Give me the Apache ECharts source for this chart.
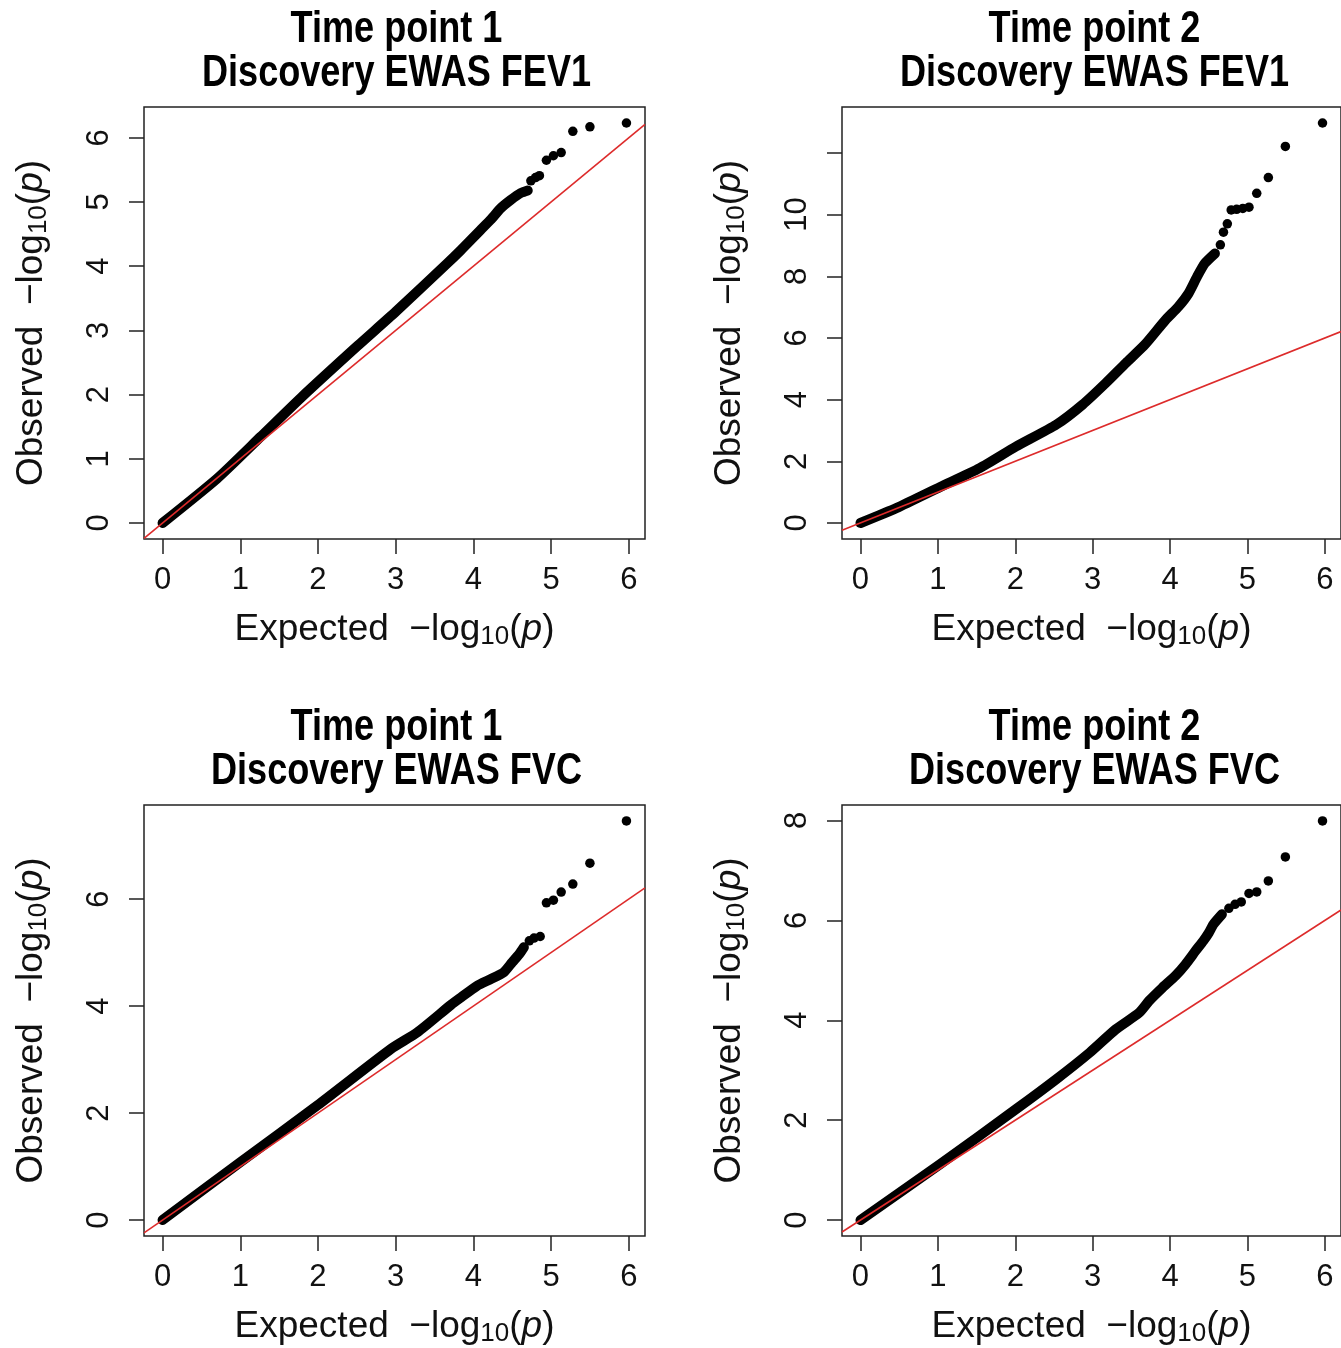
<!DOCTYPE html>
<html>
<head>
<meta charset="utf-8">
<script src="https://cdn.jsdelivr.net/npm/echarts@6/dist/echarts.min.js"></script>
<style>
  html, body { margin: 0; padding: 0; background: #ffffff; }
  #chart { width: 1341px; height: 1348px; }
</style>
</head>
<body>
<div id="chart"></div>
<script>
// Q-Q plots of EWAS p-values: expected vs observed -log10(p)

// Tick values
const xTicks = [0, 1, 2, 3, 4, 5, 6];
const yTicksFev1T1 = [0, 1, 2, 3, 4, 5, 6];
const yTicksFev1T2 = [0, 2, 4, 6, 8, 10, 12];
const yLabelsFev1T2 = [0, 2, 4, 6, 8, 10];
const yTicksFvcT1 = [0, 2, 4, 6];
const yTicksFvcT2 = [0, 2, 4, 6, 8];

// Panel titles
const panelTitles = [
  'Time point 1\nDiscovery EWAS FEV1',
  'Time point 2\nDiscovery EWAS FEV1',
  'Time point 1\nDiscovery EWAS FVC',
  'Time point 2\nDiscovery EWAS FVC'
];

// [expected, observed] -log10(p): dense bulk of the distribution
const fev1T1Body = [
  [0.00, 0.00], [0.70, 0.69], [1.26, 1.34], [1.78, 1.95], [2.51, 2.76],
  [3.00, 3.29], [3.67, 4.05], [3.84, 4.25], [3.97, 4.41], [4.09, 4.56],
  [4.22, 4.72], [4.35, 4.90], [4.48, 5.03], [4.61, 5.14], [4.70, 5.18]
];
// [expected, observed]: sparse upper tail
const fev1T1Tail = [
  [4.74, 5.33], [4.80, 5.38], [4.85, 5.41], [4.94, 5.65], [5.03, 5.72],
  [5.13, 5.77], [5.28, 6.10], [5.50, 6.17], [5.97, 6.23]
];

const fev1T2Body = [
  [0.00, 0.00], [0.47, 0.49], [1.03, 1.17], [1.54, 1.78], [2.01, 2.48],
  [2.53, 3.19], [2.87, 3.84], [3.17, 4.54], [3.43, 5.19], [3.68, 5.80],
  [3.94, 6.58], [4.11, 7.02], [4.24, 7.45], [4.35, 7.99], [4.45, 8.42],
  [4.58, 8.74]
];
const fev1T2Tail = [
  [4.65, 9.02], [4.69, 9.43], [4.74, 9.70], [4.79, 10.15], [4.86, 10.17],
  [4.94, 10.20], [5.02, 10.24], [5.12, 10.69], [5.27, 11.20], [5.49, 12.21],
  [5.97, 12.97]
];

const fvcT1Body = [
  [0.00, 0.00], [1.00, 1.08], [1.99, 2.14], [2.94, 3.20], [3.28, 3.51],
  [3.71, 4.02], [3.84, 4.16], [4.05, 4.38], [4.22, 4.50], [4.39, 4.63],
  [4.50, 4.82], [4.59, 4.97], [4.65, 5.10]
];
const fvcT1Tail = [
  [4.72, 5.22], [4.78, 5.27], [4.86, 5.30], [4.94, 5.93], [5.03, 5.98],
  [5.13, 6.13], [5.28, 6.28], [5.50, 6.67], [5.97, 7.46]
];

const fvcT2Body = [
  [0.00, 0.00], [1.03, 1.12], [2.01, 2.22], [2.53, 2.82], [2.96, 3.35],
  [3.30, 3.82], [3.60, 4.15], [3.73, 4.39], [3.90, 4.65], [4.07, 4.89],
  [4.20, 5.12], [4.33, 5.39], [4.43, 5.59], [4.50, 5.75], [4.56, 5.92],
  [4.67, 6.12]
];
const fvcT2Tail = [
  [4.76, 6.24], [4.84, 6.32], [4.92, 6.37], [5.02, 6.54], [5.12, 6.57],
  [5.27, 6.79], [5.49, 7.27], [5.97, 7.99]
];

const FONT = '"Liberation Sans", Arial, Helvetica, sans-serif';
const INK = '#111111';
const FRAME = '#222222';
const PLOT_W = 501;
const PLOT_H = 432;

const panels = [
  { title: panelTitles[0], body: fev1T1Body, tail: fev1T1Tail, yTicks: yTicksFev1T1, yLabels: yTicksFev1T1, left: 144, top: 107 },
  { title: panelTitles[1], body: fev1T2Body, tail: fev1T2Tail, yTicks: yTicksFev1T2, yLabels: yLabelsFev1T2, left: 842, top: 107 },
  { title: panelTitles[2], body: fvcT1Body, tail: fvcT1Tail, yTicks: yTicksFvcT1, yLabels: yTicksFvcT1, left: 144, top: 805 },
  { title: panelTitles[3], body: fvcT2Body, tail: fvcT2Tail, yTicks: yTicksFvcT2, yLabels: yTicksFvcT2, left: 842, top: 805 }
];

// Data range padded by 4% on each side
function paddedRange(values) {
  const lo = Math.min(...values);
  const hi = Math.max(...values);
  const pad = (hi - lo) * 0.04;
  return [lo - pad, hi + pad];
}

const nameRich = {
  s: { fontSize: 26, fontFamily: FONT, color: INK, verticalAlign: 'bottom', lineHeight: 18 },
  i: { fontSize: 37, fontFamily: FONT, color: INK, fontStyle: 'italic' }
};
const nameStyle = { fontSize: 37, lineHeight: 40, fontFamily: FONT, color: INK, rich: nameRich };

const option = {
  animation: false,
  backgroundColor: '#ffffff',
  graphic: [],
  grid: [],
  xAxis: [],
  yAxis: [],
  series: []
};

panels.forEach((p, i) => {
  const pts = p.body.concat(p.tail);
  const xr = paddedRange(pts.map(d => d[0]));
  const yr = paddedRange(pts.map(d => d[1]));

  // two-line bold title, horizontally condensed
  option.graphic.push({
    type: 'text',
    x: p.left + PLOT_W / 2 + 2,
    y: p.top - 99,
    scaleX: 0.82,
    silent: true,
    style: {
      text: p.title,
      fill: '#000',
      fontFamily: FONT,
      fontWeight: 'bold',
      fontSize: 44,
      lineHeight: 44,
      align: 'center',
      verticalAlign: 'top'
    }
  });

  option.grid.push({
    left: p.left, top: p.top, width: PLOT_W, height: PLOT_H,
    show: true, borderColor: FRAME, borderWidth: 1.5, backgroundColor: 'transparent'
  });

  option.xAxis.push({
    gridIndex: i, type: 'value', min: xr[0], max: xr[1],
    axisLine: { show: false, onZero: false },
    splitLine: { show: false },
    axisTick: { show: true, length: 15, customValues: xTicks, lineStyle: { color: FRAME, width: 1.5 } },
    axisLabel: { customValues: xTicks, fontSize: 31, fontFamily: FONT, color: INK, margin: 26 },
    name: 'Expected  \u2212log{s|10}({i|p})',
    nameLocation: 'middle', nameGap: 71, nameTextStyle: nameStyle
  });

  option.yAxis.push({
    gridIndex: i, type: 'value', min: yr[0], max: yr[1],
    axisLine: { show: false, onZero: false },
    splitLine: { show: false },
    axisTick: { show: true, length: 15, customValues: p.yTicks, lineStyle: { color: FRAME, width: 1.5 } },
    axisLabel: { customValues: p.yLabels, rotate: 90, fontSize: 31, fontFamily: FONT, color: INK, margin: 29 },
    name: 'Observed  \u2212log{s|10}({i|p})',
    nameLocation: 'middle', nameRotate: 90, nameGap: 92, nameTextStyle: nameStyle
  });

  // bulk of points, drawn as a continuous band of dots
  option.series.push({
    type: 'line', xAxisIndex: i, yAxisIndex: i, data: p.body,
    symbol: 'none', smooth: 0.2, clip: true, silent: true, z: 2,
    lineStyle: { color: '#000', width: 10, cap: 'round', join: 'round' }
  });
  // isolated tail points
  option.series.push({
    type: 'scatter', xAxisIndex: i, yAxisIndex: i, data: p.tail,
    symbol: 'circle', symbolSize: 9.5, silent: true, z: 2,
    itemStyle: { color: '#000', opacity: 1 }
  });
  // y = x reference line across the plot region
  option.series.push({
    type: 'line', xAxisIndex: i, yAxisIndex: i,
    data: [[xr[0], xr[0]], [xr[1], xr[1]]],
    symbol: 'none', clip: true, silent: true, z: 3,
    lineStyle: { color: '#dd2b2b', width: 1.6 }
  });
});

const chart = echarts.init(document.getElementById('chart'), null, { renderer: 'canvas' });
chart.setOption(option);
</script>
</body>
</html>
